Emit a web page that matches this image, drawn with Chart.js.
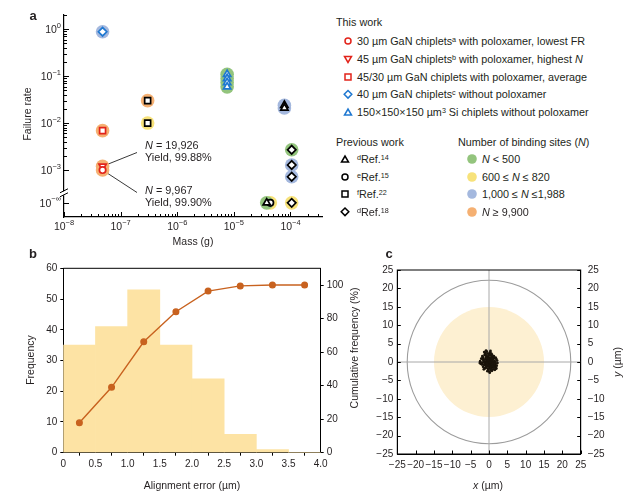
<!DOCTYPE html>
<html><head><meta charset="utf-8">
<script src="https://cdn.jsdelivr.net/npm/chart.js@4.4.0/dist/chart.umd.min.js"></script>
<style>
body{margin:0;width:639px;height:497px;position:relative;background:#fff;font-family:"Liberation Sans",Arial,Helvetica,sans-serif;color:#231f20;overflow:hidden}
canvas{position:absolute}
.t{position:absolute;white-space:nowrap;font-size:10.8px;line-height:1;transform:translateY(-50%)}
.ti{position:absolute;white-space:nowrap;font-size:10.5px;line-height:1;transform:translate(-50%,-50%)}
.rot{position:absolute;white-space:nowrap;font-size:10.5px;height:12px;line-height:12px;text-align:center;color:#231f20}
.pl{position:absolute;font-weight:bold;font-size:13px;line-height:1;transform:translate(-50%,-50%)}
sup{font-size:7.2px;vertical-align:3px;line-height:0}
svg{position:absolute;left:0;top:0}
</style></head><body>
<canvas id="ca" width="330" height="250" style="left:0;top:0;width:330px;height:250px"></canvas>
<canvas id="cb" width="370" height="247" style="left:0;top:250px;width:370px;height:247px"></canvas>
<canvas id="cc" width="269" height="247" style="left:370px;top:250px;width:269px;height:247px"></canvas>

<div class="pl" style="left:33px;top:15px">a</div>
<div class="pl" style="left:33px;top:253px">b</div>
<div class="pl" style="left:389px;top:253px">c</div>

<div class="rot" style="width:80px;left:-13px;top:108px;transform:rotate(-90deg)">Failure rate</div>
<div class="ti" style="left:193px;top:241px">Mass (g)</div>
<div class="t" style="left:145px;top:145px;font-size:10.9px"><i>N</i> = 19,926</div>
<div class="t" style="left:145px;top:157px;font-size:10.9px">Yield, 99.88%</div>
<div class="t" style="left:145px;top:190px;font-size:10.9px"><i>N</i> = 9,967</div>
<div class="t" style="left:145px;top:202px;font-size:10.9px">Yield, 99.90%</div>

<div class="t" style="left:336px;top:22px">This work</div>
<div class="t" style="left:357px;top:41px">30 µm GaN chiplets<sup>a</sup> with poloxamer, lowest FR</div>
<div class="t" style="left:357px;top:59px">45 µm GaN chiplets<sup>b</sup> with poloxamer, highest <i>N</i></div>
<div class="t" style="left:357px;top:77px">45/30 µm GaN chiplets with poloxamer, average</div>
<div class="t" style="left:357px;top:94px">40 µm GaN chiplets<sup>c</sup> without poloxamer</div>
<div class="t" style="left:357px;top:112px">150×150×150 µm<sup>3</sup> Si chiplets without poloxamer</div>
<div class="t" style="left:336px;top:142px">Previous work</div>
<div class="t" style="left:357px;top:159px"><sup>d</sup>Ref.<sup>14</sup></div>
<div class="t" style="left:357px;top:177px"><sup>e</sup>Ref.<sup>15</sup></div>
<div class="t" style="left:357px;top:194px"><sup>f</sup>Ref.<sup>22</sup></div>
<div class="t" style="left:357px;top:212px"><sup>d</sup>Ref.<sup>18</sup></div>
<div class="t" style="left:458px;top:142px">Number of binding sites (<i>N</i>)</div>
<div class="t" style="left:482px;top:159px"><i>N</i> &lt; 500</div>
<div class="t" style="left:482px;top:177px">600 ≤ <i>N</i> ≤ 820</div>
<div class="t" style="left:482px;top:194px">1,000 ≤ <i>N</i> ≤1,988</div>
<div class="t" style="left:482px;top:212px"><i>N</i> ≥ 9,900</div>

<svg width="639" height="250" viewBox="0 0 639 250">
 <g fill="#fff" stroke-width="1.5">
  <circle cx="348" cy="41" r="3" stroke="#e2231a"/>
  <path d="M344.5,56.5 L351.5,56.5 L348,62.5 Z" stroke="#e2231a"/>
  <rect x="345" y="74" width="6" height="6" stroke="#e2231a"/>
  <path d="M348,90.5 L351.8,94.3 L348,98.1 L344.2,94.3 Z" stroke="#1f78d1"/>
  <path d="M344.5,115 L351.5,115 L348,109 Z" stroke="#1f78d1"/>
  <path d="M341.5,162 L348.5,162 L345,156 Z" stroke="#000"/>
  <circle cx="345" cy="177" r="3" stroke="#000"/>
  <rect x="342" y="191" width="6" height="6" stroke="#000"/>
  <path d="M345,208 L348.8,211.8 L345,215.6 L341.2,211.8 Z" stroke="#000"/>
 </g>
 <circle cx="472" cy="159" r="4.8" fill="#93c47d"/>
 <circle cx="472" cy="177" r="4.8" fill="#f7e27a"/>
 <circle cx="472" cy="194" r="4.8" fill="#a4b8de"/>
 <circle cx="472" cy="212" r="4.8" fill="#f5b072"/>
</svg>

<div class="rot" style="width:60px;left:0px;top:354px;transform:rotate(-90deg)">Frequency</div>
<div class="rot" style="width:140px;left:284px;top:342px;transform:rotate(-90deg)">Cumulative frequency (%)</div>
<div class="ti" style="left:192px;top:485px">Alignment error (µm)</div>
<div class="ti" style="left:488px;top:485px"><i>x</i> (µm)</div>
<div class="rot" style="width:40px;left:597px;top:356px;transform:rotate(-90deg)"><i>y</i> (µm)</div>

<script>
// ---------- Panel a: failure rate vs chiplet mass ----------
// binding-site groups: 'lt500', '600to820', '1000to1988', 'ge9900'
const gan30Mass = [4.8e-8];
const gan30Rate = [1.0e-3];
const gan30Sites = ['ge9900'];
const gan45Mass = [4.8e-8];
const gan45Rate = [1.2e-3];
const gan45Sites = ['ge9900'];
const ganAvgMass = [4.8e-8];
const ganAvgRate = [6.9e-3];
const ganAvgSites = ['ge9900'];
const gan40Mass = [4.8e-8];
const gan40Rate = [0.88];
const gan40Sites = ['1000to1988'];
const siMass = [7.6e-6, 7.6e-6, 7.6e-6, 7.6e-6];
const siRate = [0.109, 0.089, 0.073, 0.059];
const siSites = ['lt500', 'lt500', 'lt500', 'lt500'];
const ref14Mass = [7.8e-5, 7.8e-5, 3.8e-5];
const ref14Rate = [0.024, 0.021, 0];
const ref14Sites = ['1000to1988', '1000to1988', 'lt500'];
const ref15Mass = [4.4e-5];
const ref15Rate = [0];
const ref15Sites = ['600to820'];
const ref22Mass = [3.0e-7, 3.0e-7];
const ref22Rate = [0.030, 0.010];
const ref22Sites = ['ge9900', '600to820'];
const ref18Mass = [1.05e-4, 1.05e-4, 1.05e-4, 1.05e-4];
const ref18Rate = [2.7e-3, 1.28e-3, 7.2e-4, 0];
const ref18Sites = ['lt500', '1000to1988', '1000to1988', '600to820'];
const xTickExponents = [-8, -7, -6, -5, -4];
const yTickExponents = [0, -1, -2, -3];

// ---------- Panel b: alignment error histogram ----------
const binCentres = [0.25, 0.75, 1.25, 1.75, 2.25, 2.75, 3.25, 3.75];
const frequency = [35, 41, 53, 35, 24, 6, 1, 0];
const cumulative = [17.9, 39.0, 66.2, 84.1, 96.4, 99.5, 100, 100];

// ---------- Panel c: x/y alignment offsets (µm) ----------
const alignX = [-0.2,0.3,-0.6,0.8,-1.1,0.1,-0.4,1.2,0.5,-0.9, 1.5,-1.5,0.2,-0.7,0.9,1.8,-1.8,0.0,-1.2,0.6, 1.4,-2.1,2.0,-0.3,1.1,-1.6,0.4,-0.1,0.7,-0.8, 0.2,-0.5,1.0,-0.3,0.6,-1.0,0.0,1.3,-1.3,0.4, -0.2,0.9,-0.7,1.6,-1.9,0.3,-0.6,-1.0,0.1,0.8, 2.3,-2.4,1.9,-1.4,0.5,-0.4,0.1,-0.9,1.1,0.3, -0.1,0.7,-1.2,1.5,-0.5,0.0,0.9,-0.8,1.2,-1.6, 0.6,-0.2,1.7,-1.7,0.2,-0.3,1.0,-1.1,0.4,2.1, -2.2,1.3,-0.9,0.8,0.0,-0.6,0.5,-0.2,0.3,0.9, -1.4,1.4,-0.4,0.6,-1.8,2.2,1.8,-2.5,0.2,-0.8, 0.4,1.6,-1.3,2.0,-0.1];
const alignY = [0.1,-0.4,0.5,0.2,-0.3,1.2,-1.0,-0.8,0.9,1.1, 0.3,0.4,-1.6,-1.5,-1.4,-0.5,-0.2,2.1,1.9,1.7, 1.1,0.9,0.8,-2.2,-2.0,-1.3,0.3,-0.6,-0.1,0.0, 0.6,-0.2,0.6,0.8,-0.8,0.7,-0.2,-0.2,-0.8,-1.2, 1.6,1.3,1.5,-1.1,-0.7,2.6,2.8,2.4,-2.6,-2.4, -0.3,0.2,-1.6,-2.0,-0.5,0.3,0.0,-0.6,0.0,1.0, -1.2,0.5,0.1,-0.7,1.2,0.7,-0.6,-1.1,0.9,0.8, -1.8,-1.8,0.0,1.3,1.9,2.3,-1.1,-1.7,-2.1,-1.0, -0.5,1.6,2.0,2.0,-0.9,-0.4,0.1,0.4,-0.1,0.9, -0.1,-1.5,-2.5,2.3,1.6,0.4,1.2,-0.3,-2.9,3.1, 3.0,-2.1,2.7,-1.8,0.9];
const chipletRadius = 15;     // µm, shaded disc
const outerRadius = 22.3;     // µm, grey circle
const cAxisTicks = [-25,-20,-15,-10,-5,0,5,10,15,20,25];

// ---------- styling ----------
const FONT = '"Liberation Sans", Arial, Helvetica, sans-serif';
const INK = '#231f20';
const RED = '#e2231a', BLUE = '#1f78d1', BLACK = '#000';
const haloColour = {lt500:'#93c47d', '600to820':'#f7e27a', '1000to1988':'#a4b8de', ge9900:'#f5b072'};
const ZERO_RATE_AT = 2e-4;   // where "10^-∞" sits on the axis
const BREAK_AT = 3.2e-4;

Chart.defaults.font.family = FONT;
Chart.defaults.font.size = 10;
Chart.defaults.color = INK;

const yPos = r => (r === 0 ? ZERO_RATE_AT : r);
const pts = (m, r) => m.map((v, i) => ({x: v, y: yPos(r[i])}));

const series = [
  {m: gan30Mass, r: gan30Rate, s: gan30Sites, c: RED, st: 'circle', rot: 0},
  {m: gan45Mass, r: gan45Rate, s: gan45Sites, c: RED, st: 'triangle', rot: 180},
  {m: ganAvgMass, r: ganAvgRate, s: ganAvgSites, c: RED, st: 'rect', rot: 0},
  {m: gan40Mass, r: gan40Rate, s: gan40Sites, c: BLUE, st: 'rectRot', rot: 0},
  {m: siMass, r: siRate, s: siSites, c: BLUE, st: 'triangle', rot: 0},
  {m: ref14Mass, r: ref14Rate, s: ref14Sites, c: BLACK, st: 'triangle', rot: 0},
  {m: ref15Mass, r: ref15Rate, s: ref15Sites, c: BLACK, st: 'circle', rot: 0},
  {m: ref22Mass, r: ref22Rate, s: ref22Sites, c: BLACK, st: 'rect', rot: 0},
  {m: ref18Mass, r: ref18Rate, s: ref18Sites, c: BLACK, st: 'rectRot', rot: 0},
];

const markerSets = series.map(o => ({
  data: pts(o.m, o.r), pointStyle: o.st, rotation: o.rot,
  pointRadius: o.st === 'circle' ? 3.2 : 4.2, borderColor: o.c, backgroundColor: '#fff',
  borderWidth: 1.7, order: 0
}));
const haloSets = series.map(o => ({
  data: pts(o.m, o.r), pointStyle: 'circle', pointRadius: 6.8,
  backgroundColor: o.s.map(k => haloColour[k]), borderWidth: 0, order: 10
}));

function fixFit(w, h) {
  return s => {
    if (w != null) s.width = w;
    if (h != null) s.height = h;
    s.paddingTop = 0; s.paddingBottom = 0; s.paddingLeft = 0; s.paddingRight = 0;
  };
}

function drawPow(ctx, sup, x, y, align) {
  ctx.font = '10.5px ' + FONT;
  const wb = ctx.measureText('10').width;
  ctx.font = '7.5px ' + FONT;
  const ws = ctx.measureText(sup).width;
  const left = align === 'center' ? x - (wb + ws) / 2 : x - wb - ws;
  ctx.textBaseline = 'middle'; ctx.textAlign = 'left'; ctx.fillStyle = INK;
  ctx.font = '10.5px ' + FONT; ctx.fillText('10', left, y);
  ctx.font = '7.5px ' + FONT; ctx.fillText(sup, left + wb, y - 4.5);
}

const panelA = {
  id: 'panelA',
  beforeDatasetsDraw(chart) {
    const {ctx, scales: {x, y}} = chart;
    ctx.save(); ctx.strokeStyle = '#222'; ctx.lineWidth = 0.9;
    const px = x.getPixelForValue(gan45Mass[0]);
    let py = y.getPixelForValue(gan45Rate[0]);
    ctx.beginPath(); ctx.moveTo(px, py); ctx.lineTo(137, 152.5); ctx.stroke();
    py = y.getPixelForValue(gan30Rate[0]);
    ctx.beginPath(); ctx.moveTo(px, py); ctx.lineTo(137, 192.5); ctx.stroke();
    ctx.restore();
  },
  afterDraw(chart) {
    const {ctx, chartArea: a, scales: {x, y}} = chart;
    ctx.save();
    ctx.strokeStyle = BLACK; ctx.lineWidth = 1;
    const seg = (x1, y1, x2, y2) => { ctx.beginPath(); ctx.moveTo(x1, y1); ctx.lineTo(x2, y2); ctx.stroke(); };
    for (const e of xTickExponents) {
      for (let m = 1; m <= 9; m++) {
        const v = m * Math.pow(10, e);
        if (v > x.max) break;
        const p = Math.round(x.getPixelForValue(v)) + 0.5;
        seg(p, a.bottom, p, a.bottom - (m === 1 ? 5 : 3));
      }
    }
    for (let e = 0; e >= -3; e--) {
      for (let m = 1; m <= 9; m++) {
        const v = m * Math.pow(10, e);
        if (v > y.max) break;
        const p = Math.round(y.getPixelForValue(v)) + 0.5;
        seg(a.left, p, a.left + (m === 1 ? 5 : 3), p);
      }
    }
    const pz = Math.round(y.getPixelForValue(ZERO_RATE_AT)) + 0.5;
    seg(a.left, pz, a.left + 5, pz);
    // axis break
    const pb = y.getPixelForValue(BREAK_AT);
    ctx.fillStyle = '#fff'; ctx.fillRect(a.left - 2, pb - 2, 4, 4);
    ctx.lineWidth = 1;
    seg(a.left - 4, pb - 0.5, a.left + 4, pb - 4.5);
    seg(a.left - 4, pb + 3.5, a.left + 4, pb - 0.5);
    // labels
    for (const e of xTickExponents) drawPow(ctx, '−' + Math.abs(e), x.getPixelForValue(Math.pow(10, e)), a.bottom + 10, 'center');
    for (const e of yTickExponents) drawPow(ctx, e === 0 ? '0' : '−' + Math.abs(e), a.left - 3, y.getPixelForValue(Math.pow(10, e)) + 1, 'right');
    drawPow(ctx, '−∞', a.left - 3, y.getPixelForValue(ZERO_RATE_AT) + 1, 'right');
    ctx.restore();
  }
};

new Chart(document.getElementById('ca'), {
  type: 'scatter',
  data: {datasets: [...markerSets, ...haloSets]},
  options: {
    responsive: false, animation: false, events: [],
    layout: {padding: {left: 0, right: 8, top: 15, bottom: 0}},
    plugins: {legend: {display: false}, tooltip: {enabled: false}},
    scales: {
      x: {type: 'logarithmic', min: 1e-8, max: 3.6e-4, grid: {display: false, drawTicks: false},
          ticks: {display: false}, border: {color: BLACK, width: 1.2}, afterFit: fixFit(null, 33)},
      y: {type: 'logarithmic', min: 1e-4, max: 2, grid: {display: false, drawTicks: false},
          ticks: {display: false}, border: {color: BLACK, width: 1.2}, afterFit: fixFit(64, null)}
    }
  },
  plugins: [panelA]
});

// ---------- Panel b ----------
const topLine = {
  id: 'topLine',
  afterDraw(chart) {
    const {ctx, chartArea: a} = chart;
    ctx.save(); ctx.strokeStyle = BLACK; ctx.lineWidth = 1;
    ctx.beginPath(); ctx.moveTo(a.left, a.top); ctx.lineTo(a.right, a.top); ctx.stroke();
    ctx.restore();
  }
};
const outTicks = {drawOnChartArea: false, drawTicks: true, tickLength: 3, color: BLACK, lineWidth: 1};
new Chart(document.getElementById('cb'), {
  type: 'bar',
  data: {datasets: [
    {type: 'line', data: binCentres.map((v, i) => ({x: v, y: cumulative[i]})), yAxisID: 'y2',
     borderColor: '#c8621f', backgroundColor: '#c8621f', borderWidth: 1.4, pointRadius: 2.8, tension: 0, order: 0},
    {type: 'bar', data: binCentres.map((v, i) => ({x: v, y: frequency[i]})), yAxisID: 'y',
     backgroundColor: '#fde3a4', borderWidth: 0, barPercentage: 1, categoryPercentage: 1, grouped: false, order: 5}
  ]},
  options: {
    responsive: false, animation: false, events: [],
    layout: {padding: {left: 0, right: 0, top: 18.3, bottom: 0}},
    plugins: {legend: {display: false}, tooltip: {enabled: false}},
    scales: {
      x: {type: 'linear', min: 0, max: 4, offset: false, grid: outTicks, border: {color: BLACK, width: 1},
          ticks: {stepSize: 0.5, padding: 3, autoSkip: false, maxRotation: 0, font: {size: 10},
                  callback: v => (v === 0 ? '0' : v.toFixed(1))},
          afterFit: fixFit(null, 44.3)},
      y: {min: 0, max: 60, position: 'left', grid: outTicks, border: {color: BLACK, width: 1},
          ticks: {stepSize: 10, padding: 3, font: {size: 10}}, afterFit: fixFit(63.3, null)},
      y2: {min: 0, max: 110, position: 'right', grid: outTicks, border: {color: BLACK, width: 1},
           ticks: {stepSize: 20, padding: 3, font: {size: 10}},
           afterBuildTicks: s => { s.ticks = s.ticks.filter(t => t.value <= 100); },
           afterFit: fixFit(49.3, null)}
    }
  },
  plugins: [topLine]
});

// ---------- Panel c ----------
const panelC = {
  id: 'panelC',
  beforeDatasetsDraw(chart) {
    const {ctx, chartArea: a, scales: {x, y}} = chart;
    const cx = x.getPixelForValue(0), cy = y.getPixelForValue(0);
    const r1 = x.getPixelForValue(chipletRadius) - cx;
    const r2 = x.getPixelForValue(outerRadius) - cx;
    ctx.save();
    ctx.fillStyle = '#fdf0d2';
    ctx.beginPath(); ctx.arc(cx, cy, r1, 0, Math.PI * 2); ctx.fill();
    ctx.strokeStyle = '#9c9c9c'; ctx.lineWidth = 1.1;
    ctx.beginPath(); ctx.arc(cx, cy, r2, 0, Math.PI * 2); ctx.stroke();
    ctx.strokeStyle = '#a8a8a8'; ctx.lineWidth = 1;
    ctx.beginPath(); ctx.moveTo(a.left, cy); ctx.lineTo(a.right, cy); ctx.moveTo(cx, a.top); ctx.lineTo(cx, a.bottom); ctx.stroke();
    ctx.restore();
  },
  afterDraw(chart) {
    const {ctx, chartArea: a, scales: {x, y}} = chart;
    ctx.save(); ctx.strokeStyle = BLACK; ctx.lineWidth = 1;
    ctx.strokeRect(a.left, a.top, a.right - a.left, a.bottom - a.top);
    ctx.beginPath();
    for (const v of cAxisTicks) {
      const px = Math.round(x.getPixelForValue(v)) + 0.5;
      ctx.moveTo(px, a.bottom); ctx.lineTo(px, a.bottom - 3.5);
      const py = Math.round(y.getPixelForValue(v)) + 0.5;
      ctx.moveTo(a.left, py); ctx.lineTo(a.left + 3.5, py);
      ctx.moveTo(a.right, py); ctx.lineTo(a.right - 3.5, py);
    }
    ctx.stroke();
    ctx.restore();
  }
};
const minusFmt = v => (v < 0 ? '−' + Math.abs(v) : String(v));
const noGrid = {display: false, drawTicks: false};
new Chart(document.getElementById('cc'), {
  type: 'scatter',
  data: {datasets: [{data: alignX.map((v, i) => ({x: v, y: alignY[i]})), pointRadius: 1.4,
                     backgroundColor: '#1a140a', borderWidth: 0}]},
  options: {
    responsive: false, animation: false, events: [],
    layout: {padding: {left: 0, right: 0, top: 20, bottom: 0}},
    plugins: {legend: {display: false}, tooltip: {enabled: false}},
    scales: {
      x: {type: 'linear', min: -25, max: 25, grid: noGrid, border: {color: BLACK, width: 1},
          ticks: {stepSize: 5, padding: 5, autoSkip: false, maxRotation: 0, font: {size: 10}, callback: minusFmt},
          afterFit: fixFit(null, 43)},
      y: {min: -25, max: 25, position: 'left', grid: noGrid, border: {color: BLACK, width: 1},
          ticks: {stepSize: 5, padding: 4, autoSkip: false, font: {size: 10}, callback: minusFmt},
          afterFit: fixFit(27.3, null)},
      y2: {min: -25, max: 25, position: 'right', grid: noGrid, border: {color: BLACK, width: 1},
           ticks: {stepSize: 5, padding: 7, autoSkip: false, font: {size: 10}, callback: minusFmt},
           afterFit: fixFit(58.3, null)}
    }
  },
  plugins: [panelC]
});
</script>
</body></html>
